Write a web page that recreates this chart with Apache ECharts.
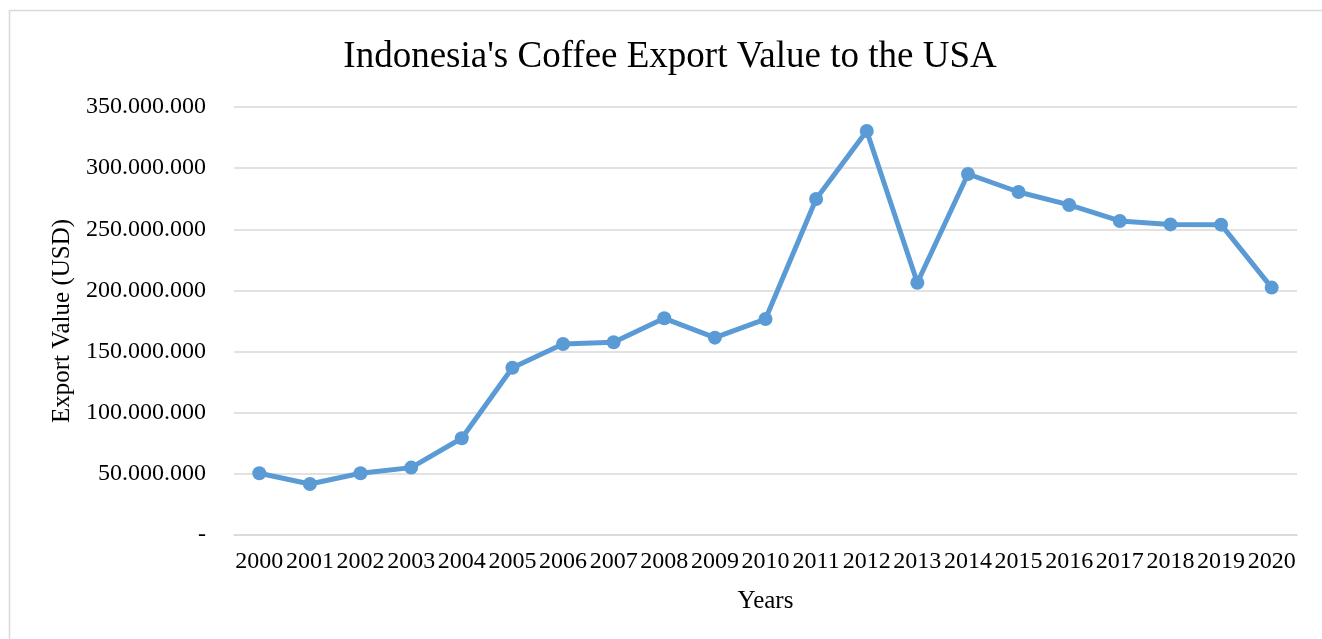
<!DOCTYPE html>
<html>
<head>
<meta charset="utf-8">
<script src="https://cdn.jsdelivr.net/npm/echarts@6/dist/echarts.min.js"></script>
<style>
  html, body { margin: 0; padding: 0; background: #fff; }
  #chart { width: 1322px; height: 639px; }
</style>
</head>
<body>
<div id="chart"></div>
<script>
const years = ["2000", "2001", "2002", "2003", "2004", "2005", "2006", "2007", "2008", "2009", "2010",
  "2011", "2012", "2013", "2014", "2015", "2016", "2017", "2018", "2019", "2020"];
const exportValue = [50500000, 41700000, 50500000, 55100000, 79100000, 136800000, 156200000, 157600000,
  177200000, 161400000, 176600000, 274800000, 330400000, 206300000, 295200000, 280500000,
  269900000, 256800000, 254000000, 253800000, 202300000];

const serif = "'Liberation Serif', 'Times New Roman', serif";

function formatValue(v) {
  if (v === 0) return "-";
  return String(Math.round(v)).replace(/\B(?=(\d{3})+(?!\d))/g, ".");
}

const chart = echarts.init(document.getElementById("chart"));

const option = {
  animation: false,
  backgroundColor: "#fff",
  title: {
    text: "Indonesia's Coffee Export Value to the USA",
    left: 665,
    top: 34,
    textAlign: "center",
    textStyle: { fontFamily: serif, fontSize: 37, fontWeight: "normal", color: "#000" },
  },
  graphic: [
    {
      type: "polyline",
      silent: true,
      shape: { points: [[9.5, 639], [9.5, 10.5], [1322, 10.5]] },
      style: { stroke: "#d9d9d9", fill: null, lineWidth: 1.5 },
    },
  ],
  grid: { left: 234, right: 25, top: 107, bottom: 104 },
  xAxis: {
    type: "category",
    data: years,
    boundaryGap: true,
    name: "Years",
    nameLocation: "middle",
    nameGap: 54,
    nameTextStyle: { fontFamily: serif, fontSize: 25, color: "#000" },
    axisLine: { show: true, lineStyle: { color: "#d9d9d9", width: 1.5 } },
    axisTick: { show: false },
    axisLabel: { fontFamily: serif, fontSize: 24, color: "#000", margin: 15, interval: 0 },
  },
  yAxis: {
    type: "value",
    min: 0,
    max: 350000000,
    interval: 50000000,
    name: "Export Value (USD)",
    nameLocation: "middle",
    nameRotate: 90,
    nameGap: 158,
    nameTextStyle: { fontFamily: serif, fontSize: 25, color: "#000" },
    axisLine: { show: false },
    axisTick: { show: false },
    axisLabel: { fontFamily: serif, fontSize: 24, color: "#000", margin: 28, formatter: formatValue },
    splitLine: { lineStyle: { color: "#d9d9d9", width: 1.5 } },
  },
  series: [
    {
      name: "Export Value",
      type: "line",
      data: exportValue,
      symbol: "circle",
      symbolSize: 14,
      lineStyle: { color: "#5b9bd5", width: 5 },
      itemStyle: { color: "#5b9bd5" },
    },
  ],
};

chart.setOption(option);
</script>
</body>
</html>
